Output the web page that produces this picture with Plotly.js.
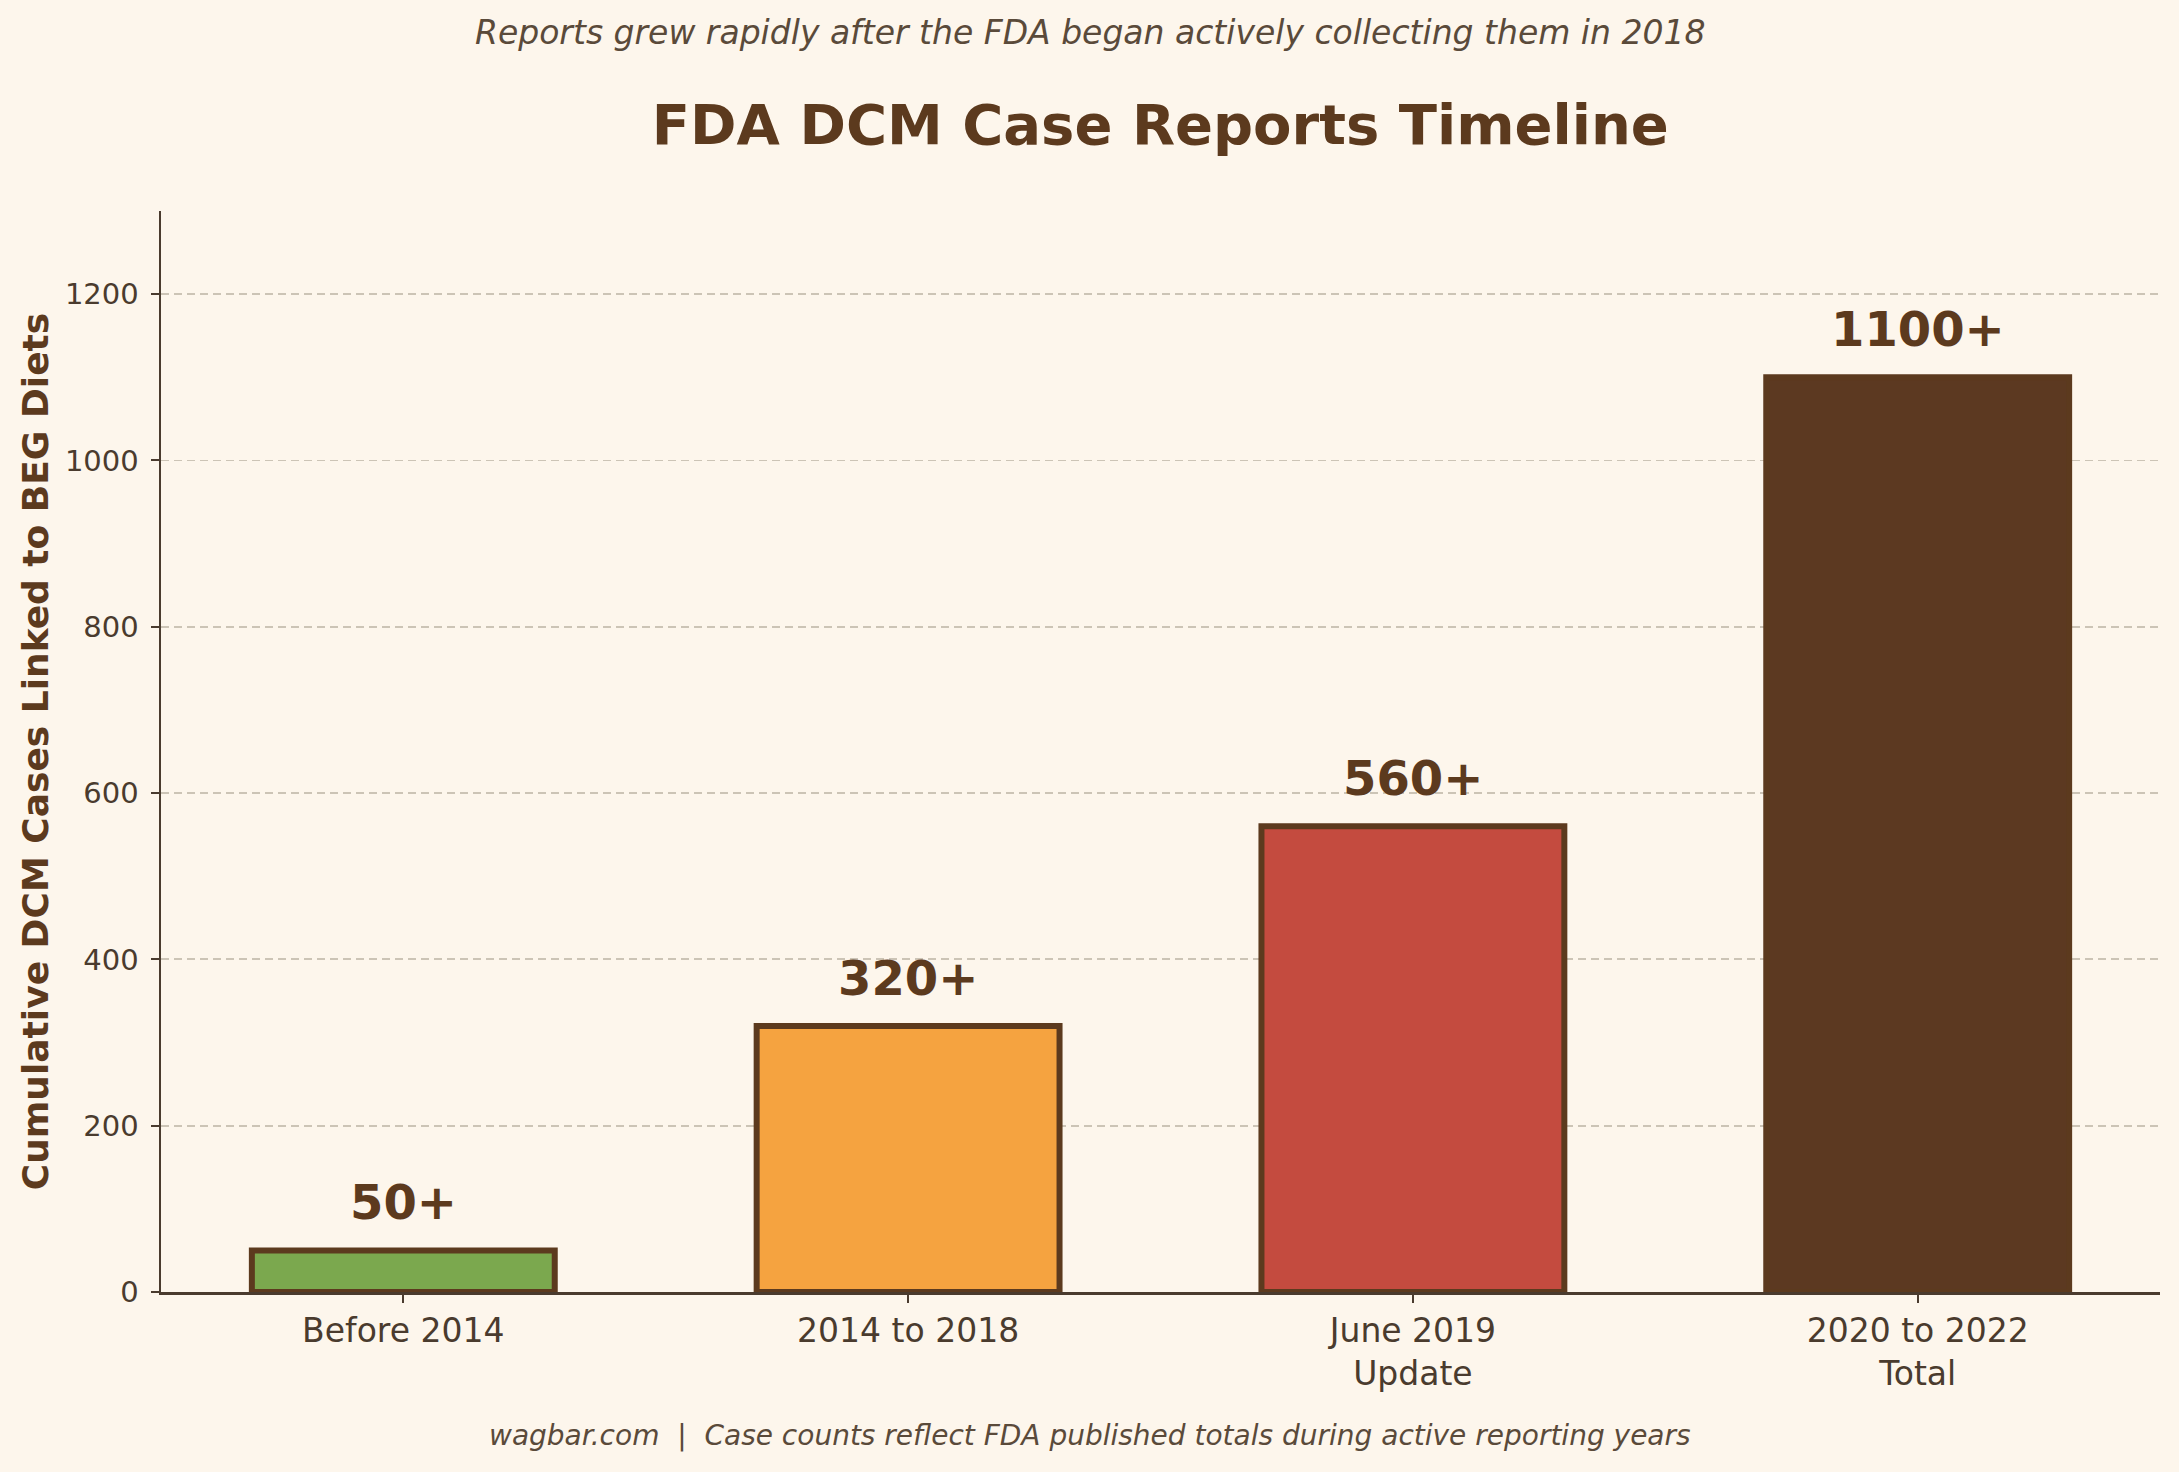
<!DOCTYPE html>
<html>
<head>
<meta charset="utf-8">
<script src="https://cdn.plot.ly/plotly-3.0.1.min.js"></script>
<style>
  html, body { margin: 0; padding: 0; background: #FDF6EC; }
  #chart { width: 2179px; height: 1472px; }
</style>
</head>
<body>
<div id="chart"></div>
<script>
// data
const periods = ['Before 2014', '2014 to 2018', 'June 2019<br>Update', '2020 to 2022<br>Total'];
const cases = [50, 320, 560, 1100];
const caseLabels = ['50+', '320+', '560+', '1100+'];
const barColors = ['#7BA84E', '#F5A340', '#C44B3F', '#5C3921'];
const yTicks = [0, 200, 400, 600, 800, 1000, 1200];

const ink = '#5C3A1E';
const softInk = '#4A3B2E';

const trace = {
  type: 'bar',
  x: periods,
  y: cases,
  width: 0.6,
  marker: {
    color: barColors,
    line: { color: ink, width: 6 }
  },
  hoverinfo: 'skip'
};

// value labels over the bars
const labels = periods.map((p, i) => ({
  x: p,
  y: cases[i],
  text: '<b>' + caseLabels[i] + '</b>',
  showarrow: false,
  yanchor: 'bottom',
  yshift: 18,
  font: { family: 'DejaVu Sans', size: 48, color: ink }
}));

const notes = [
  {
    xref: 'paper', yref: 'paper',
    x: 0.4647, y: 1.1647,
    xanchor: 'center', yanchor: 'middle',
    text: '<i>Reports grew rapidly after the FDA began actively collecting them in 2018</i>',
    showarrow: false,
    font: { family: 'DejaVu Sans', size: 33, color: '#5A4A3A' }
  },
  {
    xref: 'paper', yref: 'paper',
    x: 0.4647, y: -0.1332,
    xanchor: 'center', yanchor: 'middle',
    text: '<i>wagbar.com  |  Case counts reflect FDA published totals during active reporting years</i>',
    showarrow: false,
    font: { family: 'DejaVu Sans', size: 28, color: '#5A4A3A' }
  }
];

const layout = {
  width: 2179,
  height: 1472,
  margin: { l: 161, r: 19, t: 211, b: 180 },
  paper_bgcolor: '#FDF6EC',
  plot_bgcolor: '#FDF6EC',
  showlegend: false,
  title: {
    text: '<b>FDA DCM Case Reports Timeline</b>',
    font: { family: 'DejaVu Sans', size: 56, color: ink },
    x: 0.5325, xanchor: 'center',
    yref: 'container', y: 1 - 124 / 1472, yanchor: 'middle'
  },
  xaxis: {
    type: 'category',
    range: [-0.48, 3.48],
    showgrid: false,
    showline: true,
    linecolor: softInk,
    linewidth: 2.5,
    ticks: 'outside',
    ticklen: 8,
    tickwidth: 2,
    tickcolor: softInk,
    tickfont: { family: 'DejaVu Sans', size: 33, color: softInk },
    zeroline: false
  },
  yaxis: {
    range: [0, 1300],
    tickvals: yTicks,
    showgrid: true,
    gridcolor: '#CCC4B6',
    gridwidth: 1.8,
    griddash: '8px,5px',
    showline: true,
    linecolor: softInk,
    linewidth: 2.5,
    ticks: 'outside',
    ticklen: 8,
    tickwidth: 2,
    tickcolor: softInk,
    ticklabelstandoff: 6,
    tickfont: { family: 'DejaVu Sans', size: 29, color: softInk },
    zeroline: false,
    title: {
      text: '<b>Cumulative DCM Cases Linked to BEG Diets</b>',
      font: { family: 'DejaVu Sans', size: 36, color: ink },
      standoff: 6
    }
  },
  annotations: labels.concat(notes)
};

Plotly.newPlot('chart', [trace], layout, { displayModeBar: false, staticPlot: true });
</script>
</body>
</html>
